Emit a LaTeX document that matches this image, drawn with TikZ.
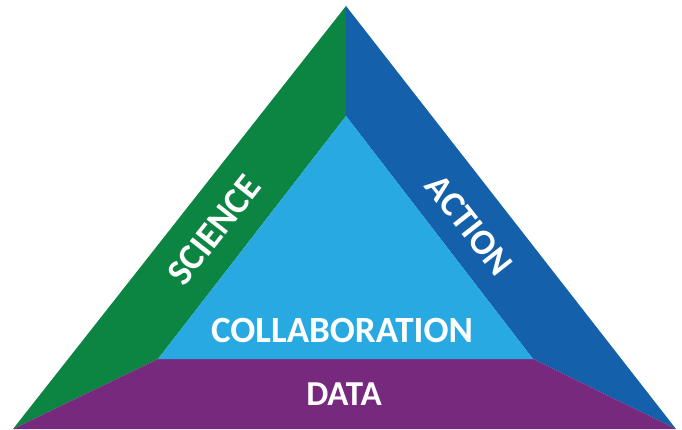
\documentclass[tikz,border=0pt]{standalone}
\usepackage{fontspec}
\setmainfont{Carlito}
\definecolor{sciencegreen}{HTML}{0C8542}
\definecolor{actionblue}{HTML}{1560AB}
\definecolor{collabblue}{HTML}{29A9E1}
\definecolor{datapurple}{HTML}{77297E}
\tikzset{label text/.style={text=white, font=\bfseries\fontsize{37}{37}\selectfont, inner sep=0pt}}
\begin{document}
\begin{tikzpicture}[x=1pt, y=-1pt]
    \useasboundingbox (0,0) rectangle (682,430);

    \coordinate (top) at (346,6);
    \coordinate (bl) at (13,429);
    \coordinate (br) at (676,429);
    \coordinate (itop) at (346,116);
    \coordinate (ibl) at (158,359);
    \coordinate (ibr) at (533,359);

     \fill[sciencegreen] (top) -- (bl) -- (ibl) -- (itop) -- cycle;
     \fill[actionblue] (top) -- (itop) -- (ibr) -- (br) -- cycle;
     \fill[datapurple] (bl) -- (br) -- (ibr) -- (ibl) -- cycle;
     \fill[collabblue] (itop) -- (ibl) -- (ibr) -- cycle;

    \node (science) at (214,230) [label text, rotate=51.8]{SCIENCE};
    \node (action) at (469,225) [label text, font=\bfseries\fontsize{36}{36}\selectfont, rotate=-51.8]{ACTION};
    \node (collab) at (342,330) [label text]{COLLABORATION};
    \node (data) at (344,394) [label text, font=\bfseries\fontsize{35}{35}\selectfont]{DATA};

  \end{tikzpicture}
\end{document}
